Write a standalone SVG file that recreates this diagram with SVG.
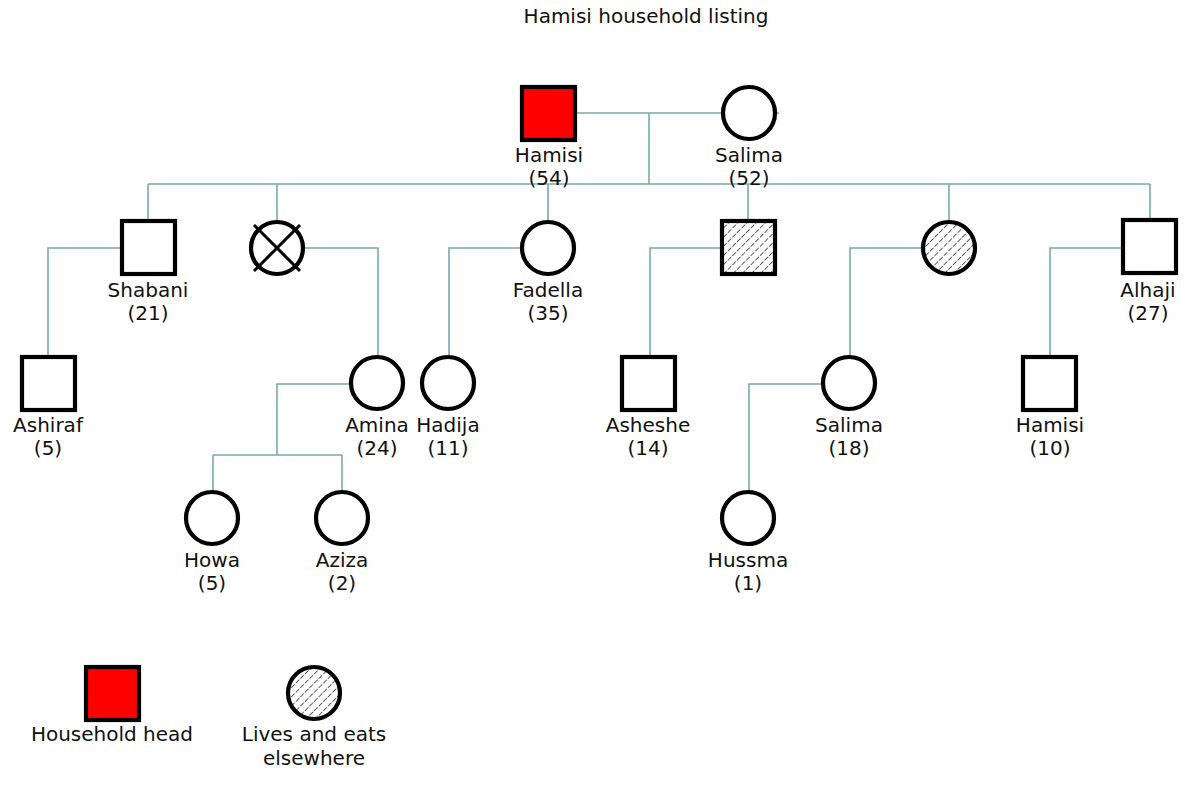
<svg xmlns="http://www.w3.org/2000/svg" width="1186" height="785" viewBox="0 0 1186 785">
<defs>
<pattern id="hatch" patternUnits="userSpaceOnUse" width="6.5" height="6.5" patternTransform="rotate(-45)">
<rect width="6.5" height="6.5" fill="#ffffff"/>
<line x1="0" y1="3.25" x2="6.5" y2="3.25" stroke="#555" stroke-width="1.1" stroke-dasharray="4 1.5"/>
</pattern>
</defs>
<style>
text{font-family:"DejaVu Sans",Verdana,sans-serif;font-size:20px;fill:#111;text-anchor:middle}
.n{stroke:#000;stroke-width:4.2;fill:#fff}
.head{fill:#ff0000}
.h{fill:url(#hatch)}
.c{stroke:#76abb0;stroke-width:1.6;fill:none}
</style>
<rect width="1186" height="785" fill="#fff"/>
<text x="646" y="23">Hamisi household listing</text>
<g id="connectors">
<path class="c" d="M575 113H779M649 113V184M148 184H1150"/>
<path class="c" d="M148 184V221M277 184V221M548 184V221M748 184V221M949 184V221M1150 184V221"/>
<path class="c" d="M121 248H48V357"/>
<path class="c" d="M304 248H378V357"/>
<path class="c" d="M521 248H449V357"/>
<path class="c" d="M721 248H650V357"/>
<path class="c" d="M922 248H850V357"/>
<path class="c" d="M1122 248H1050V357"/>
<path class="c" d="M350 384H277V455M213 455H342M213 455V492M342 455V492"/>
<path class="c" d="M822 384H749V492"/>
</g>
<g id="n_hamisi"><rect class="n head" x="522" y="87" width="53" height="53"/><text x="549" y="162">Hamisi</text><text x="549" y="185">(54)</text></g>
<g id="n_salima"><circle class="n" cx="749" cy="113" r="26"/><text x="749" y="162">Salima</text><text x="749" y="185">(52)</text></g>
<g id="n_shabani"><rect class="n" x="122" y="221" width="53" height="53"/><text x="148" y="297">Shabani</text><text x="148" y="320">(21)</text></g>
<g id="n_deceased"><circle class="n" cx="277" cy="248" r="26"/><path d="M254 225L300 271M300 225L254 271" stroke="#000" stroke-width="3"/></g>
<g id="n_fadella"><circle class="n" cx="548" cy="248" r="26"/><text x="548" y="297">Fadella</text><text x="548" y="320">(35)</text></g>
<g id="n_son_away"><rect class="n h" x="722" y="221" width="53" height="53"/></g>
<g id="n_dau_away"><circle class="n h" cx="949" cy="248" r="26"/></g>
<g id="n_alhaji"><rect class="n" x="1123" y="220" width="53" height="53"/><text x="1148" y="297">Alhaji</text><text x="1148" y="320">(27)</text></g>
<g id="n_ashiraf"><rect class="n" x="22" y="357" width="53" height="53"/><text x="48" y="432">Ashiraf</text><text x="48" y="455">(5)</text></g>
<g id="n_amina"><circle class="n" cx="377" cy="383" r="26"/><text x="377" y="432">Amina</text><text x="377" y="455">(24)</text></g>
<g id="n_hadija"><circle class="n" cx="448" cy="383" r="26"/><text x="448" y="432">Hadija</text><text x="448" y="455">(11)</text></g>
<g id="n_asheshe"><rect class="n" x="622" y="357" width="53" height="53"/><text x="648" y="432">Asheshe</text><text x="648" y="455">(14)</text></g>
<g id="n_salima18"><circle class="n" cx="849" cy="383" r="26"/><text x="849" y="432">Salima</text><text x="849" y="455">(18)</text></g>
<g id="n_hamisi10"><rect class="n" x="1023" y="357" width="53" height="53"/><text x="1050" y="432">Hamisi</text><text x="1050" y="455">(10)</text></g>
<g id="n_howa"><circle class="n" cx="212" cy="518" r="26"/><text x="212" y="567">Howa</text><text x="212" y="590">(5)</text></g>
<g id="n_aziza"><circle class="n" cx="342" cy="518" r="26"/><text x="342" y="567">Aziza</text><text x="342" y="590">(2)</text></g>
<g id="n_hussma"><circle class="n" cx="748" cy="518" r="26"/><text x="748" y="567">Hussma</text><text x="748" y="590">(1)</text></g>
<g id="legend_head"><rect class="n head" x="86" y="667" width="53" height="53"/><text x="112" y="741">Household head</text></g>
<g id="legend_away"><circle class="n h" cx="314" cy="693" r="26"/><text x="314" y="741">Lives and eats</text><text x="314" y="765">elsewhere</text></g>
</svg>
